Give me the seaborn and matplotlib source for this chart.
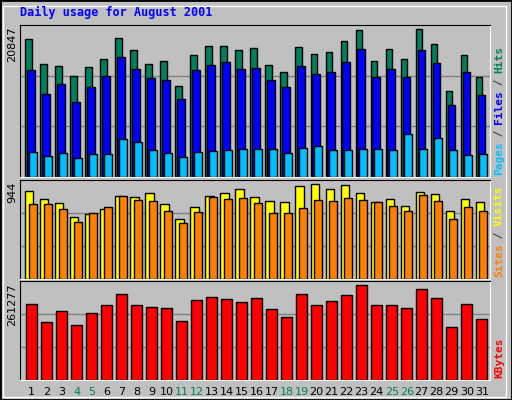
import numpy as np
import pandas as pd
import matplotlib
matplotlib.use("Agg")
import matplotlib.pyplot as plt
import seaborn as sns

days = list(range(1, 32))
weekend = [4, 5, 11, 12, 18, 19, 25, 26]

hits = [18900, 15500, 15160, 13800, 15150, 16130, 19010, 17360, 15440, 15850, 12420, 16740,
        18000, 18000, 17360, 17640, 15300, 14340, 17780, 16810, 17090, 18600, 20110, 15850,
        17500, 16130, 20250, 18190, 11730, 16680, 13650]
files = [14620, 11450, 12690, 10220, 12280, 13790, 16400, 14750, 13510, 13240, 10630, 14620,
         15300, 15720, 14750, 14890, 13240, 12280, 15170, 14060, 14340, 15720, 17500, 13650,
         14750, 13650, 17360, 15580, 9940, 14340, 11180]
pages = [3480, 2930, 3340, 2660, 3210, 3210, 5270, 4860, 3760, 3340, 2800, 3480,
         3620, 3760, 3890, 3890, 3890, 3340, 4030, 4310, 3760, 3760, 3890, 3890,
         3760, 5920, 3890, 5410, 3760, 3070, 3210]
sites = [840, 763, 725, 591, 620, 667, 791, 781, 820, 715, 572, 686,
         791, 820, 858, 781, 744, 734, 887, 906, 858, 896, 820, 734,
         763, 696, 830, 810, 648, 763, 734]
visits = [715, 715, 667, 544, 630, 686, 791, 753, 744, 648, 534, 639,
          781, 763, 772, 725, 630, 630, 677, 753, 744, 772, 753, 734,
          696, 648, 801, 744, 572, 686, 648]
kbytes = [201200, 153500, 182700, 145700, 175600, 198500, 227700, 198500, 193300, 190600, 156200, 211800,
          219700, 214400, 206500, 217100, 187900, 166800, 227700, 198500, 209100, 225000, 251500, 198500,
          198500, 190600, 241000, 217100, 138700, 201200, 161500]

BG = "#C0C0C0"
fig = plt.figure(figsize=(5.12, 4.0), dpi=100, facecolor=BG)
W, H = 512, 400

def add_ax(top, bottom):
    ax = fig.add_axes([20 / W, 1 - bottom / H, 470 / W, (bottom - top) / H])
    ax.set_facecolor(BG)
    ax.set_xlim(-0.766, 30.55)
    for s in ["top", "left"]:
        ax.spines[s].set_color("black")
    for s in ["bottom", "right"]:
        ax.spines[s].set_color("white")
    ax.set_xticks([])
    ax.set_yticks([])
    ax.set_xlabel("")
    ax.set_ylabel("")
    return ax

def bars(ax, vals, color, left, right):
    n0 = len(ax.patches)
    sns.barplot(x=days, y=vals, color=color, edgecolor="black", linewidth=1,
                saturation=1, ax=ax, errorbar=None)
    for i, p in enumerate(ax.patches[n0:]):
        p.set_x(i + left)
        p.set_width(right - left)

def grid(ax, top):
    for f in (1 / 3, 2 / 3):
        ax.axhline(top * f, color="#808080", lw=1, zorder=0)
    ax.set_ylim(0, top)

mono = "DejaVu Sans Mono"

ax1 = add_ax(25, 177)
grid(ax1, 20847)
bars(ax1, hits, "#00805C", -0.41, 0.05)
bars(ax1, files, "#0000FF", -0.28, 0.23)
bars(ax1, pages, "#00C0FF", -0.15, 0.35)

ax2 = add_ax(180, 279)
grid(ax2, 944)
bars(ax2, sites, "#FFFF00", -0.41, 0.13)
bars(ax2, visits, "#FF8000", -0.15, 0.37)

ax3 = add_ax(281, 380)
grid(ax3, 261277)
bars(ax3, kbytes, "#FF0000", -0.35, 0.35)

for ax in (ax1, ax2, ax3):
    ax.set_xlim(-0.766, 30.55)
    ax.set_xticks([])

for i, d in enumerate(days):
    ax3.text(i, -0.07, str(d), transform=ax3.get_xaxis_transform(), ha="center", va="top",
             fontsize=8, family="DejaVu Sans",
             color="#008060" if d in weekend else "black")

fig.text(20 / W, 1 - 12 / H, "Daily usage for August 2001", color="#0000FF",
         fontsize=8.5, family=mono, weight="bold", va="center")

for ax, lab, y in ((ax1, "20847", 25), (ax2, "944", 180), (ax3, "261277", 281)):
    fig.text(12 / W, 1 - (y + 2) / H, lab, rotation=90, ha="center", va="top",
             fontsize=8, family="DejaVu Sans")

def right_label(parts, ybottom):
    y = 1 - ybottom / H
    for txt, col in parts:
        t = fig.text(499 / W, y, txt, rotation=90, ha="center", va="bottom",
                     fontsize=8, family=mono, weight="bold", color=col)
        y += len(txt) * 6.4 / H

right_label([("Pages", "#00C0FF"), (" / ", "#404040"), ("Files", "#0000FF"),
             (" / ", "#404040"), ("Hits", "#00805C")], 175)
right_label([("Sites", "#FF8000"), (" / ", "#404040"), ("Visits", "#FFFF00")], 277)
right_label([("KBytes", "#FF0000")], 378)

fig.patches.append(plt.Rectangle((0, 0), 1, 1, transform=fig.transFigure, fill=False,
                                 edgecolor="black", lw=2))
fig.patches.append(plt.Rectangle((3 / W, 3 / H), 1 - 9 / W, 1 - 9 / H, transform=fig.transFigure,
                                 fill=False, edgecolor="white", lw=1))

fig.savefig("out.png", dpi=100, facecolor=BG)
